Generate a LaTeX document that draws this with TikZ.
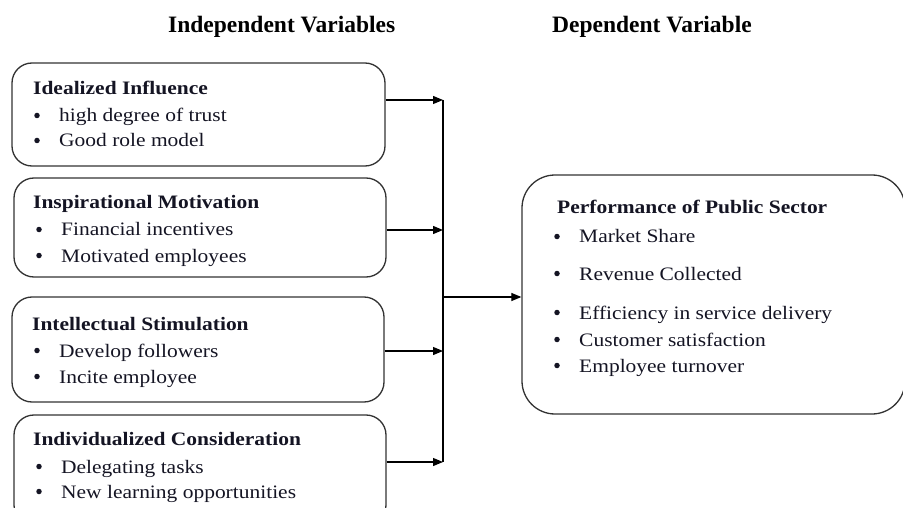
\documentclass[tikz,border=0pt]{standalone}
\usepackage{fontspec}
\setmainfont{Liberation Serif}
\newfontfamily\bodyfont{Liberation Serif}[FakeStretch=1.13]
\usetikzlibrary{arrows.meta}
\definecolor{ink}{RGB}{20,20,35}
\definecolor{edge}{RGB}{50,50,50}
\tikzset{
  ibox/.style={draw=edge, line width=1.3pt, rounded corners=20pt, inner sep=0pt},
  dbox/.style={draw=edge, line width=1.3pt, rounded corners=33pt, inner sep=0pt},
  txt/.style={inner sep=0pt, text=ink, font=\bodyfont\fontsize{19}{22}\selectfont},
  ttl/.style={txt, font=\bodyfont\bfseries\fontsize{19}{22}\selectfont},
  head/.style={inner sep=0pt, text=black, font=\bfseries\fontsize{23.5}{26}\selectfont},
  dot/.style={circle, fill=ink, inner sep=0pt, minimum size=5.5pt},
  arr/.style={line width=1.2pt, -{Triangle[length=10pt,width=8pt]}},
  ln/.style={line width=1.2pt}
}
\newcommand\bline[5]{%
  \node[dot] (#1b) at (#2,#4-6.5) {};
  \node[txt,anchor=base west] (#1) at (#3,#4) {#5};}
\begin{document}
\begin{tikzpicture}[x=1pt,y=-1pt]
\useasboundingbox (0,0) rectangle (903,508);
% headings
\node[head,anchor=base west] (hi) at (168,33) {Independent Variables};
\node[head,anchor=base west] (hd) at (552,33) {Dependent Variable};
% boxes
\node[ibox, minimum width=373pt, minimum height=103pt] (b1) at (198.5,114.5) {};
\node[ibox, minimum width=372pt, minimum height=99pt] (b2) at (200,227.5) {};
\node[ibox, minimum width=372pt, minimum height=105pt] (b3) at (198,349.5) {};
\node[ibox, minimum width=372pt, minimum height=110pt] (b4) at (200,470) {};
\node[dbox, minimum width=383pt, minimum height=239pt] (dep) at (713.5,294.5) {};
% box 1
\node[ttl,anchor=base west] (t1) at (33,95) {Idealized Influence};
\bline{a1}{37}{59}{122}{high degree of trust}
\bline{a2}{37}{59}{147}{Good role model}
% box 2
\node[ttl,anchor=base west] (t2) at (33,209) {Inspirational Motivation};
\bline{c1}{39}{61}{236}{Financial incentives}
\bline{c2}{39}{61}{262}{Motivated employees}
% box 3
\node[ttl,anchor=base west] (t3) at (32,330) {Intellectual Stimulation};
\bline{e1}{37}{59}{357}{Develop followers}
\bline{e2}{37}{59}{383}{Incite employee}
% box 4
\node[ttl,anchor=base west] (t4) at (33,445) {Individualized Consideration};
\bline{g1}{39}{61}{473}{Delegating tasks}
\bline{g2}{39}{61}{498}{New learning opportunities}
% dependent box
\node[ttl,anchor=base west] (t5) at (557,214) {Performance of Public Sector};
\bline{p1}{557}{579}{243}{Market Share}
\bline{p2}{557}{579}{280}{Revenue Collected}
\bline{p3}{557}{579}{319}{Efficiency in service delivery}
\bline{p4}{557}{579}{346}{Customer satisfaction}
\bline{p5}{557}{579}{372}{Employee turnover}
% connectors
\coordinate (j1) at (443,100);
\coordinate (j2) at (443,230);
\coordinate (j3) at (443,351);
\coordinate (j4) at (443,462);
\coordinate (jm) at (443,297);
\draw[arr] (b1.east |- j1) -- (j1);
\draw[arr] (b2.east |- j2) -- (j2);
\draw[arr] (b3.east |- j3) -- (j3);
\draw[arr] (b4.east |- j4) -- (j4);
\draw[ln] (j1) -- (j4);
\draw[arr] (jm) -- (dep.west |- jm);
\end{tikzpicture}
\end{document}
